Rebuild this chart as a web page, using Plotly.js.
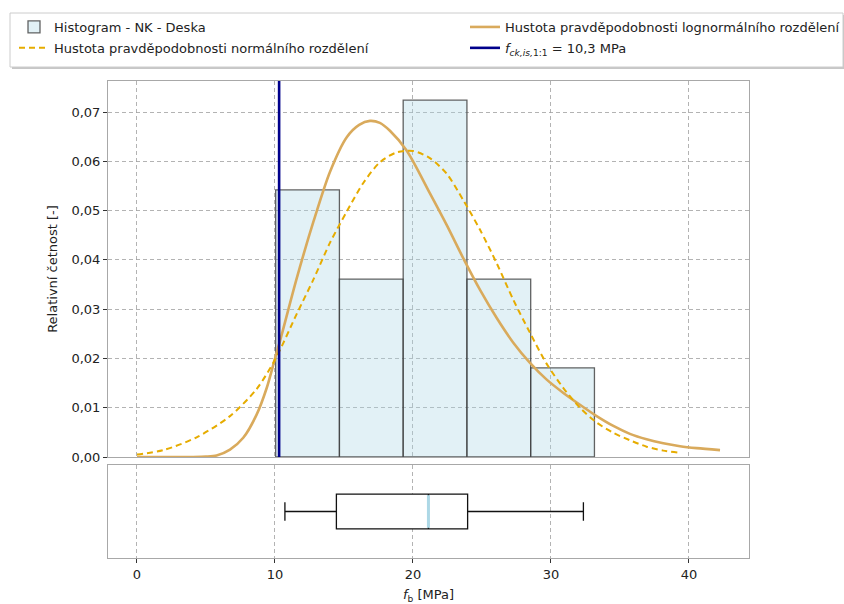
<!DOCTYPE html>
<html>
<head>
<meta charset="utf-8">
<script src="https://cdn.plot.ly/plotly-3.0.1.min.js"></script>
<style>body{margin:0;padding:0;background:#fff;} #chart{width:844px;height:604px;}</style>
</head>
<body>
<div id="chart"></div>
<script>
// ---- data ----
const binEdges = [10.05, 14.67, 19.29, 23.91, 28.53, 33.15];
const densities = [0.0542, 0.0361, 0.0724, 0.0361, 0.0181];

const normX = [0, 1.91, 4.32, 6.74, 8.67, 10.05, 11.57, 12.78, 13.99, 15.2, 16.4, 17.6, 18.8, 20.0, 21.2, 22.44, 23.65, 24.86, 26.07, 27.27, 28.48, 29.69, 30.9, 32.1, 33.31, 34.52, 35.72, 36.93, 38.14, 39.2];
const normY = [0.0005, 0.0014, 0.0040, 0.0083, 0.0138, 0.0200, 0.0290, 0.0360, 0.0435, 0.0498, 0.0556, 0.0598, 0.0618, 0.0621, 0.0607, 0.0575, 0.0521, 0.0461, 0.0393, 0.0319, 0.0252, 0.0189, 0.0140, 0.0100, 0.0070, 0.0049, 0.0034, 0.0021, 0.0013, 0.0009];

const lognX = [0, 2, 4, 5, 5.77, 6.74, 7.7, 8.67, 9.4, 10.05, 10.36, 11.57, 12.78, 13.99, 15.2, 16.1, 16.88, 17.6, 18.33, 19.54, 21.23, 22.44, 23.65, 24.86, 26.07, 27.27, 28.48, 29.69, 30.9, 32.1, 33.31, 34.52, 35.72, 36.93, 38.14, 39.35, 40.56, 42.25];
const lognY = [0, 0, 0.00001, 0.00008, 0.0003, 0.0015, 0.0039, 0.0086, 0.0140, 0.0205, 0.0235, 0.0362, 0.0477, 0.0579, 0.0649, 0.0674, 0.0682, 0.0678, 0.0662, 0.0622, 0.0535, 0.0471, 0.0403, 0.0339, 0.0282, 0.0232, 0.0191, 0.0157, 0.0130, 0.0106, 0.0083, 0.0063, 0.0047, 0.0036, 0.0028, 0.0022, 0.0018, 0.0014];

const fck = 10.3;
const boxStats = {lowerfence: 10.72, q1: 14.45, median: 21.12, q3: 23.96, upperfence: 32.35};

const yTop = 0.0763;

// ---- derived ----
const binCenters = [], binWidths = [];
for (let i = 0; i < densities.length; i++) {
  binCenters.push((binEdges[i] + binEdges[i + 1]) / 2);
  binWidths.push(binEdges[i + 1] - binEdges[i]);
}

const font = {family: 'DejaVu Sans, sans-serif', size: 13, color: '#222'};
const gridColor = '#a0a0a0';
const frameColor = '#a8a8a8';

const boxWidth = 0.375;

const traces = [
  {
    type: 'bar', x: binCenters, y: densities, width: binWidths,
    name: 'Histogram - NK - Deska', legend: 'legend', legendgroup: 'a', legendrank: 1,
    marker: {color: 'rgba(173,216,230,0.35)', line: {color: 'rgba(60,60,60,0.8)', width: 1.3}},
    xaxis: 'x', yaxis: 'y', hoverinfo: 'skip'
  },
  {
    type: 'scatter', mode: 'lines', x: lognX, y: lognY,
    name: 'Hustota pravděpodobnosti lognormálního rozdělení', legend: 'legend2', legendgroup: 'c', legendrank: 1,
    line: {color: '#d9aa5c', width: 2.6, shape: 'spline', smoothing: 0.8},
    xaxis: 'x', yaxis: 'y'
  },
  {
    type: 'scatter', mode: 'lines', x: normX, y: normY,
    name: 'Hustota pravděpodobnosti normálního rozdělení', legend: 'legend', legendgroup: 'b', legendrank: 2,
    line: {color: '#e6ac00', width: 2, dash: '6px,4px', shape: 'spline', smoothing: 0.8},
    xaxis: 'x', yaxis: 'y'
  },
  {
    type: 'scatter', mode: 'lines', x: [fck, fck], y: [0, yTop],
    name: '<i>f</i><sub><i>ck,is,</i>1:1</sub> = 10,3 MPa', legend: 'legend2', legendgroup: 'd', legendrank: 2,
    line: {color: '#00008b', width: 2.6},
    xaxis: 'x', yaxis: 'y'
  },
  {
    type: 'box', orientation: 'h', y: [1],
    lowerfence: [boxStats.lowerfence], q1: [boxStats.q1], median: [boxStats.median],
    q3: [boxStats.q3], upperfence: [boxStats.upperfence],
    width: boxWidth, whiskerwidth: 0.53, boxpoints: false,
    fillcolor: 'white', line: {color: '#111', width: 1.3},
    showlegend: false, xaxis: 'x2', yaxis: 'y2', hoverinfo: 'skip'
  },
  {
    type: 'scatter', mode: 'lines', x: [boxStats.median, boxStats.median],
    y: [1 - boxWidth / 2 + 0.012, 1 + boxWidth / 2 - 0.012],
    line: {color: '#add8e6', width: 3}, showlegend: false,
    xaxis: 'x2', yaxis: 'y2', hoverinfo: 'skip'
  }
];

const xTicks = [0, 10, 20, 30, 40];

// legend frame (px -> paper coordinates)
const W = 844, H = 604, mL = 108, mR = 95, mT = 81, mB = 46;
const pw = W - mL - mR, ph = H - mT - mB;
const px2x = p => (p - mL) / pw;
const py2y = p => (H - mB - p) / ph;

const legendCommon = {
  orientation: 'v', xanchor: 'left', yanchor: 'top',
  bgcolor: 'rgba(0,0,0,0)', borderwidth: 0,
  font: font, traceorder: 'grouped', tracegroupgap: 1
};

const layout = {
  width: W, height: H,
  margin: {l: mL, r: mR, t: mT, b: mB, pad: 0, autoexpand: false},
  paper_bgcolor: 'white', plot_bgcolor: 'white',
  font: font,
  separators: ', ',
  showlegend: true,
  bargap: 0,
  xaxis: {
    range: [-2.1, 44.35], domain: [0, 1], anchor: 'y',
    tickvals: xTicks, showticklabels: false, ticks: '',
    showgrid: true, gridcolor: gridColor, griddash: '4px,3px', gridwidth: 0.8,
    showline: true, linecolor: frameColor, linewidth: 1, mirror: true, zeroline: false
  },
  yaxis: {
    range: [0, yTop], domain: [0.2117, 1], anchor: 'x',
    tickvals: [0, 0.01, 0.02, 0.03, 0.04, 0.05, 0.06, 0.07], tickformat: '.2f',
    ticks: 'outside', ticklen: 4, tickcolor: '#333', tickwidth: 1,
    showgrid: true, gridcolor: gridColor, griddash: '4px,3px', gridwidth: 0.8,
    showline: true, linecolor: frameColor, linewidth: 1, mirror: true, zeroline: false,
    title: {text: 'Relativní četnost [-]', font: font, standoff: 10}
  },
  xaxis2: {
    range: [-2.1, 44.35], domain: [0, 1], anchor: 'y2',
    tickvals: xTicks, ticks: 'outside', ticklen: 4, tickcolor: '#333',
    showgrid: true, gridcolor: gridColor, griddash: '4px,3px', gridwidth: 0.8,
    showline: true, linecolor: frameColor, linewidth: 1, mirror: true, zeroline: false,
    title: {text: '<i>f</i><sub>b</sub> [MPa]', font: font, standoff: 12}
  },
  yaxis2: {
    range: [0.5, 1.5], domain: [0, 0.195], anchor: 'x2',
    showticklabels: false, ticks: '', showgrid: false,
    showline: true, linecolor: frameColor, linewidth: 1, mirror: true, zeroline: false
  },
  legend: Object.assign({}, legendCommon, {x: px2x(14), y: py2y(12)}),
  legend2: Object.assign({}, legendCommon, {x: px2x(465), y: py2y(12)}),
  shapes: [
    {type: 'rect', xref: 'paper', yref: 'paper', layer: 'above',
     x0: px2x(12), x1: px2x(845), y0: py2y(69), y1: py2y(15),
     fillcolor: 'rgba(0,0,0,0.22)', line: {width: 0}},
    {type: 'rect', xref: 'paper', yref: 'paper', layer: 'above',
     x0: px2x(10), x1: px2x(843), y0: py2y(67), y1: py2y(13),
     fillcolor: 'white', line: {color: '#cccccc', width: 1}}
  ]
};

Plotly.newPlot('chart', traces, layout, {staticPlot: true, displayModeBar: false});
</script>
</body>
</html>
